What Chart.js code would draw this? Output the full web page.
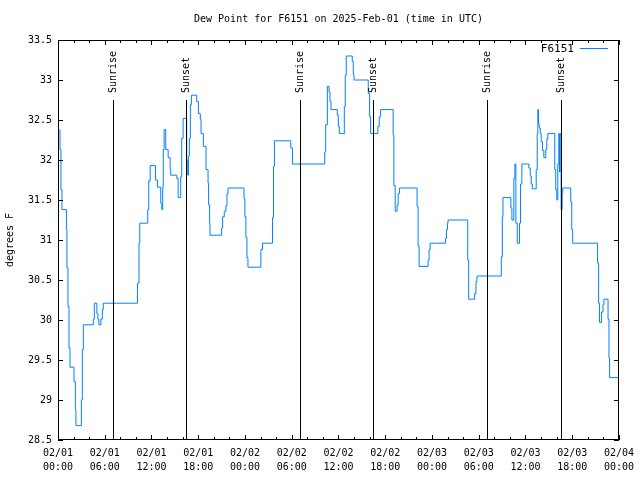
<!DOCTYPE html>
<html>
<head>
<meta charset="utf-8">
<script src="https://cdn.jsdelivr.net/npm/chart.js@4/dist/chart.umd.min.js"></script>
<style>
html, body { margin: 0; padding: 0; background: #fff; }
</style>
</head>
<body>
<canvas id="dewChart" width="640" height="480"></canvas>
<script>
// hours since 02/01 00:00 UTC where the reading changes, and the new dew point (F)
var hours = [0.22,0.26,0.38,0.51,1.08,1.15,1.28,1.41,1.54,2.05,2.23,2.30,3.00,3.12,3.25,4.53,4.66,4.99,5.12,5.25,5.51,5.69,5.81,
  10.20,10.40,10.50,11.52,11.65,11.83,12.51,12.77,13.19,13.32,13.44,13.51,13.62,13.83,14.14,14.39,14.47,15.24,15.42,15.75,15.88,16.06,
  16.52,16.65,16.74,16.86,16.99,17.12,17.80,18.02,18.27,18.36,18.66,19.00,19.26,19.33,19.46,19.51,21.00,21.13,21.34,21.56,21.69,21.82,
  23.87,23.99,24.12,24.25,24.38,26.04,26.25,27.53,27.66,27.78,29.88,30.09,34.24,34.36,34.57,34.79,34.91,35.04,35.85,35.98,36.11,
  36.75,36.87,37.00,37.77,37.90,37.99,39.82,40.00,40.13,41.06,41.23,41.41,43.02,43.11,43.28,43.53,43.66,43.84,46.09,46.22,46.35,
  47.50,47.63,47.76,49.73,49.86,49.99,50.06,52.59,52.71,53.48,53.65,53.78,56.90,57.03,57.11,58.13,58.26,58.51,58.64,58.77,58.95,
  59.24,59.37,59.54,60.44,60.62,60.74,60.87,61.38,61.51,61.59,61.68,61.77,61.90,62.02,62.19,62.36,62.61,62.74,62.87,63.76,63.89,
  64.02,64.15,64.28,64.37,64.45,64.58,64.71,64.79,65.81,65.94,66.06,69.26,69.39,69.51,69.77,69.95,70.07,70.60,70.72,70.80,71.95];
var dewF = [32.38,32.13,31.63,31.38,31.13,30.65,30.17,29.65,29.41,29.23,28.88,28.68,29.00,29.63,29.94,30.01,30.21,30.08,30.01,29.94,30.01,30.13,30.21,
  30.46,30.96,31.21,31.38,31.74,31.93,31.75,31.66,31.46,31.38,31.66,32.13,32.38,32.13,32.03,31.88,31.81,31.77,31.53,31.79,32.27,32.52,
  32.00,31.81,32.05,32.27,32.69,32.81,32.73,32.58,32.51,32.33,32.17,31.88,31.71,31.44,31.21,31.06,31.15,31.29,31.36,31.43,31.58,31.65,
  31.52,31.29,31.03,30.78,30.66,30.88,30.96,31.28,31.92,32.24,32.15,31.95,32.10,32.44,32.92,32.85,32.73,32.63,32.56,32.42,32.33,
  32.67,33.06,33.30,33.23,33.07,33.00,32.83,32.54,32.33,32.42,32.54,32.63,32.31,31.68,31.36,31.44,31.58,31.65,31.42,30.92,30.67,
  30.75,30.88,30.96,31.02,31.13,31.21,31.25,30.75,30.26,30.33,30.48,30.55,30.79,31.29,31.53,31.40,31.25,31.77,31.95,31.21,30.96,
  31.21,31.70,31.95,31.90,31.80,31.70,31.64,31.88,32.33,32.63,32.45,32.40,32.33,32.23,32.12,32.03,32.13,32.26,32.33,31.88,31.63,
  31.50,31.95,32.33,31.85,32.33,31.38,31.59,31.65,31.48,31.13,30.96,30.71,30.21,29.97,30.10,30.19,30.26,30.01,29.52,29.28,29.28];

var sunHours = [7.08, 16.42, 31.0, 40.45, 55.06, 64.5];
var sunLabels = ['Sunrise', 'Sunset', 'Sunrise', 'Sunset', 'Sunrise', 'Sunset'];

var xTickHours = [0, 6, 12, 18, 24, 30, 36, 42, 48, 54, 60, 66, 72];
var xTickDates = ['02/01','02/01','02/01','02/01','02/02','02/02','02/02','02/02','02/03','02/03','02/03','02/03','02/04'];
var xTickTimes = ['00:00','06:00','12:00','18:00','00:00','06:00','12:00','18:00','00:00','06:00','12:00','18:00','00:00'];
var yTicks = [28.5, 29, 29.5, 30, 30.5, 31, 31.5, 32, 32.5, 33, 33.5];

var FONT = '"DejaVu Sans Mono", "Liberation Mono", monospace';
var lineColor = 'rgb(0, 128, 255)';

var points = hours.map(function(h, i) { return { x: h, y: dewF[i] }; });

// gnuplot-like frame, inward ticks, sun markers and legend
var framePlugin = {
  id: 'frame',
  afterDatasetsDraw: function(chart) {
    var ctx = chart.ctx, a = chart.chartArea;
    var xs = chart.scales.x, ys = chart.scales.y;
    ctx.save();
    ctx.strokeStyle = '#000';
    ctx.fillStyle = '#000';
    ctx.lineWidth = 1;

    // frame
    ctx.strokeRect(Math.round(a.left) + 0.5, Math.round(a.top) + 0.5,
      Math.round(a.right - a.left) - 1, Math.round(a.bottom - a.top) - 1);

    ctx.beginPath();
    // y ticks both sides
    yTicks.forEach(function(v) {
      var py = Math.round(ys.getPixelForValue(v)) + 0.5;
      ctx.moveTo(a.left, py); ctx.lineTo(a.left + 5, py);
      ctx.moveTo(a.right, py); ctx.lineTo(a.right - 5, py);
    });
    // x ticks, major every 6h, minor every 2h
    for (var h = 0; h <= 72; h += 2) {
      var len = (h % 6 === 0) ? 5 : 3;
      var px = Math.round(xs.getPixelForValue(h)) + 0.5;
      ctx.moveTo(px, a.bottom); ctx.lineTo(px, a.bottom - len);
      ctx.moveTo(px, a.top); ctx.lineTo(px, a.top + len);
    }
    ctx.stroke();

    // sunrise / sunset lines
    ctx.font = '10px ' + FONT;
    var lineTop = a.top + (a.bottom - a.top) * 0.15;
    sunHours.forEach(function(h, i) {
      var px = Math.round(xs.getPixelForValue(h)) + 0.5;
      ctx.beginPath();
      ctx.moveTo(px, lineTop);
      ctx.lineTo(px, a.bottom);
      ctx.stroke();
      ctx.save();
      ctx.translate(px, lineTop - 7);
      ctx.rotate(-Math.PI / 2);
      ctx.textAlign = 'left';
      ctx.textBaseline = 'middle';
      ctx.fillText(sunLabels[i], 0, 0);
      ctx.restore();
    });

    // legend
    ctx.font = '11px ' + FONT;
    ctx.textAlign = 'right';
    ctx.textBaseline = 'middle';
    ctx.fillText(chart.data.datasets[0].label, a.right - 45, a.top + 9);
    ctx.strokeStyle = lineColor;
    ctx.beginPath();
    ctx.moveTo(a.right - 39, a.top + 8.5);
    ctx.lineTo(a.right - 11, a.top + 8.5);
    ctx.stroke();
    ctx.restore();
  }
};

new Chart(document.getElementById('dewChart').getContext('2d'), {
  type: 'line',
  data: {
    datasets: [{
      label: 'F6151',
      data: points,
      borderColor: lineColor,
      borderWidth: 1,
      pointRadius: 0,
      fill: false,
      stepped: 'before'
    }]
  },
  options: {
    responsive: false,
    animation: false,
    layout: { padding: { left: 0, right: 19, top: 0, bottom: 0 } },
    plugins: {
      legend: { display: false },
      tooltip: { enabled: false },
      title: {
        display: true,
        fullSize: false,
        text: 'Dew Point for F6151 on 2025-Feb-01 (time in UTC)',
        color: '#000',
        font: { family: FONT, size: 10, weight: 'normal' },
        padding: { top: 13, bottom: 15 }
      }
    },
    scales: {
      x: {
        type: 'linear',
        min: 0,
        max: 72,
        grid: { display: false, drawTicks: false },
        border: { display: false },
        afterBuildTicks: function(scale) {
          scale.ticks = xTickHours.map(function(v) { return { value: v }; });
        },
        afterFit: function(scale) { scale.height = 40; },
        ticks: {
          autoSkip: false,
          maxRotation: 0,
          padding: 6,
          color: '#000',
          font: { family: FONT, size: 10, lineHeight: 1.4 },
          callback: function(value, index) {
            return [xTickDates[index], xTickTimes[index]];
          }
        }
      },
      y: {
        min: 28.5,
        max: 33.5,
        grid: { display: false, drawTicks: false },
        border: { display: false },
        afterBuildTicks: function(scale) {
          scale.ticks = yTicks.map(function(v) { return { value: v }; });
        },
        afterFit: function(scale) { scale.width = 58; },
        ticks: {
          padding: 6,
          color: '#000',
          font: { family: FONT, size: 10 },
          callback: function(value) { return String(value); }
        },
        title: {
          display: true,
          text: 'degrees F',
          color: '#000',
          font: { family: FONT, size: 10 },
          padding: { top: 4, bottom: 0 }
        }
      }
    }
  },
  plugins: [framePlugin]
});
</script>
</body>
</html>
